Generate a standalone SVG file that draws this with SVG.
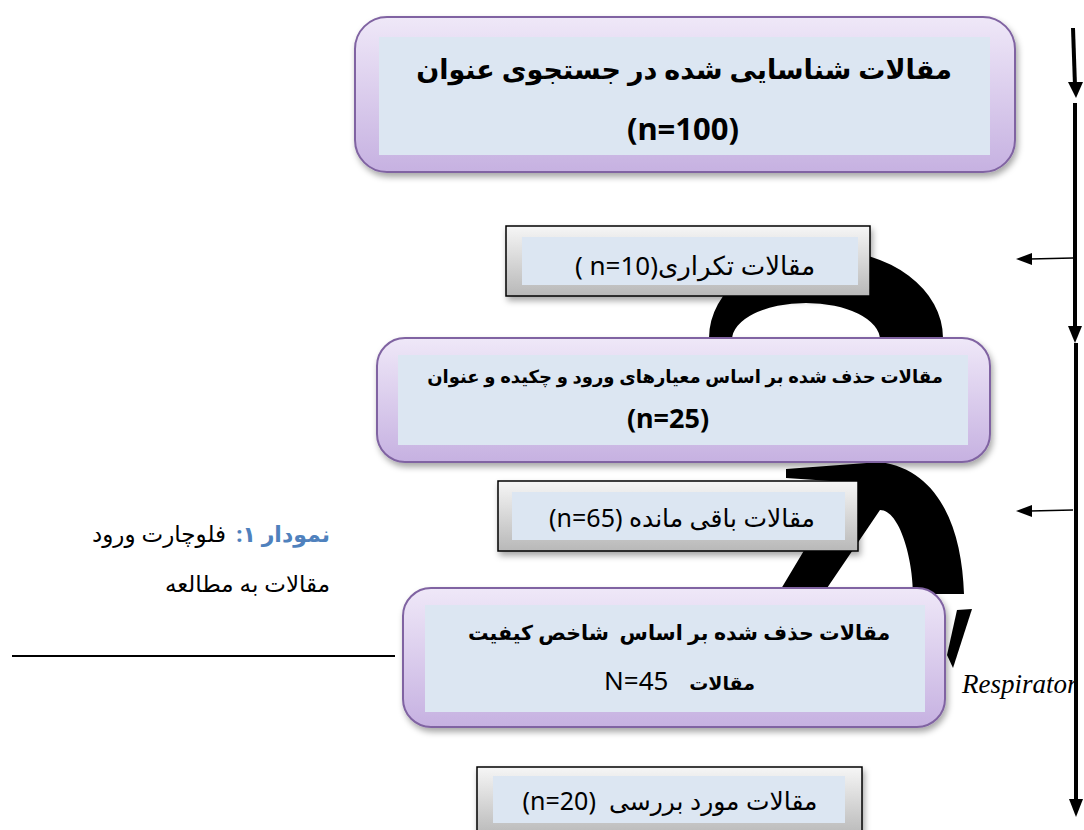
<svg xmlns="http://www.w3.org/2000/svg" width="1084" height="830" viewBox="0 0 1084 830">
<style>
.t{font-family:"Noto Sans","DejaVu Sans",sans-serif;fill:#000}
.b{font-weight:bold}
.pre{white-space:pre}
.pbox{fill:url(#pg);stroke:#8064a2;stroke-width:2}
.gbox{fill:url(#gg);stroke:#000;stroke-width:1.5}
.inner{fill:#dce6f2}
.ln{stroke:#000;fill:none}
</style>
<defs>
<linearGradient id="pg" x1="0" y1="0" x2="0" y2="1">
<stop offset="0" stop-color="#efe8f8"/>
<stop offset="1" stop-color="#c6b1e1"/>
</linearGradient>
<linearGradient id="gg" x1="0" y1="0" x2="0" y2="1">
<stop offset="0" stop-color="#f6f6f6"/>
<stop offset="1" stop-color="#b8b8b8"/>
</linearGradient>
<filter id="sh" x="-10%" y="-20%" width="125%" height="150%">
<feDropShadow dx="2" dy="4" stdDeviation="3" flood-color="#000" flood-opacity="0.35"/>
</filter>
</defs>
<rect width="1084" height="830" fill="#fff"/>

<g id="arcs">
<path d="M709,360 L709,338 A117,88 0 0 1 943,338 L943,360 L880,360 L880,340 A74,37 0 0 0 732,340 L732,360 Z" fill="#000"/>
<path d="M778,594 L845,482 L786,478 L786,469 L880,462 C940,470 962,530 964,594 L913,594 C913,560 900,510 880,510 L823,594 Z" fill="#000"/>
<path d="M957,610 L972,609 L953,668 L947,655 Z" fill="#000"/>
</g>

<g id="connectors">
<line class="ln" x1="1073" y1="28" x2="1075" y2="86" stroke-width="4"/>
<polygon points="1068,82 1083,82 1076,98"/>
<line class="ln" x1="1075" y1="103" x2="1075" y2="330" stroke-width="4"/>
<polygon points="1068,326 1082,326 1075,343"/>
<line class="ln" x1="1076" y1="343" x2="1076" y2="802" stroke-width="4"/>
<polygon points="1069,799 1083,799 1076,817"/>
<line class="ln" x1="1073" y1="258" x2="1030" y2="259" stroke-width="1.5"/>
<polygon points="1032,253 1032,265 1016,259"/>
<line class="ln" x1="1073" y1="510" x2="1030" y2="511" stroke-width="1.5"/>
<polygon points="1032,505 1032,517 1016,511"/>
<line class="ln" x1="12" y1="656" x2="395" y2="656" stroke-width="2"/>
</g>

<g id="n1">
<rect class="pbox" x="355" y="17" width="660" height="155" rx="32" filter="url(#sh)"/>
<rect class="inner" x="379" y="37" width="611" height="118"/>
<text class="t b" x="684" y="79" font-size="27" text-anchor="middle" direction="rtl">مقالات شناسایی شده در جستجوی عنوان</text>
<text class="t b" x="683" y="140" font-size="31" text-anchor="middle" direction="rtl">(n=100)</text>
</g>

<g id="n2">
<rect class="gbox" x="506" y="226" width="364" height="70" filter="url(#sh)"/>
<rect class="inner" x="522" y="237" width="336" height="48"/>
<text class="t" x="695" y="275" font-size="26" text-anchor="middle" direction="rtl">مقالات تکراری(n=10 )</text>
</g>

<g id="n3">
<rect class="pbox" x="377" y="338" width="613" height="124" rx="28" filter="url(#sh)"/>
<rect class="inner" x="398" y="355" width="570" height="90"/>
<text class="t b" x="685" y="383" font-size="18" text-anchor="middle" direction="rtl">مقالات حذف شده بر اساس معیارهای ورود و چکیده و عنوان</text>
<text class="t b" x="668" y="428" font-size="27" text-anchor="middle" direction="rtl">(n=25)</text>
</g>

<g id="n4">
<rect class="gbox" x="498" y="481" width="360" height="70" filter="url(#sh)"/>
<rect class="inner" x="512" y="492" width="333" height="48"/>
<text class="t" x="682" y="527" font-size="25" text-anchor="middle" direction="rtl">مقالات باقی مانده (n=65)</text>
</g>

<g id="n5">
<rect class="pbox" x="403" y="588" width="542" height="139" rx="28" filter="url(#sh)"/>
<rect class="inner" x="425" y="605" width="500" height="107"/>
<text class="t b pre" x="679" y="640" font-size="20.5" text-anchor="middle" direction="rtl">مقالات حذف شده بر اساس  شاخص کیفیت</text>
<text class="t b" x="755" y="690" font-size="19" text-anchor="start" direction="rtl">مقالات</text>
<text class="t" x="604" y="690" font-size="26">N=45</text>
</g>

<g id="n6">
<rect class="gbox" x="477" y="767" width="385" height="70" filter="url(#sh)"/>
<rect class="inner" x="493" y="776" width="352" height="47"/>
<text class="t pre" x="670" y="810" font-size="25" text-anchor="middle" direction="rtl">مقالات مورد بررسی  (n=20)</text>
</g>

<g id="caption">
<text class="t b" x="330" y="542" font-size="22" style="fill:#4f81bd" text-anchor="start" direction="rtl">نمودار ۱:</text>
<text class="t" x="226" y="542" font-size="23" text-anchor="start" direction="rtl">فلوچارت ورود</text>
<text class="t" x="330" y="592" font-size="23" text-anchor="start" direction="rtl">مقالات به مطالعه</text>
<text x="962" y="693" font-family="Liberation Serif" font-style="italic" font-size="27" fill="#000">Respirator</text>
</g>
</svg>
